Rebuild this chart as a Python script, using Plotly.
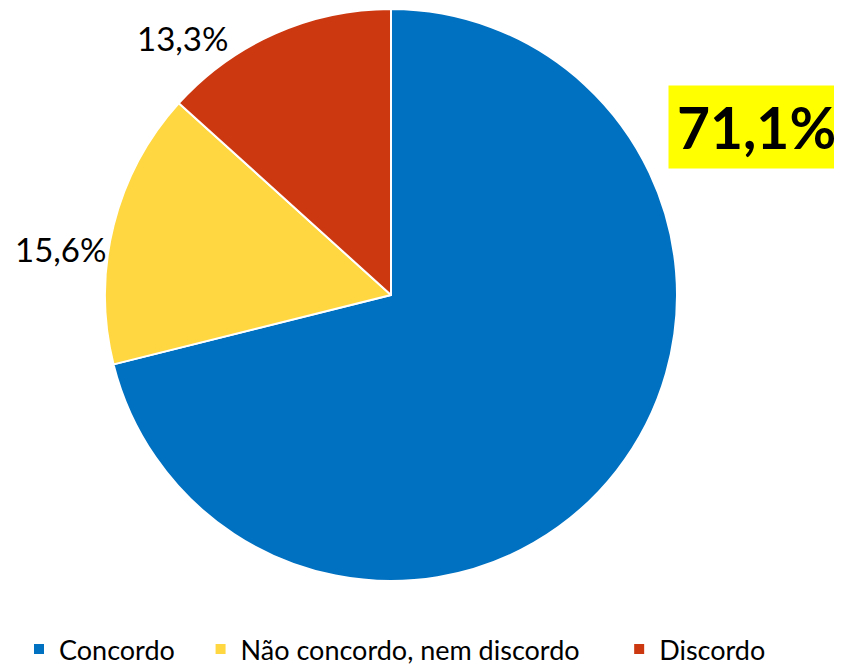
import plotly.graph_objects as go

categories = ["Concordo", "Não concordo, nem discordo", "Discordo"]
values = [71.1, 15.6, 13.3]
colors = ["#0070C0", "#FFD740", "#CC3911"]

# page has an 8px body margin, so the figure is drawn 8px smaller
W, H = 834, 657
FONT = "Lato"
OFF = 8

def fmt(v):
    return f"{v:.1f}".replace(".", ",") + "%"

pad = ["\u00a0" * 3, "\u00a0" * 5, ""]
legend_labels = [c + p for c, p in zip(categories, pad)]

fig = go.Figure(go.Pie(
    labels=legend_labels,
    values=values,
    sort=False,
    direction="clockwise",
    rotation=0,
    marker=dict(colors=colors, line=dict(color="white", width=2)),
    textinfo="none",
    hovertext=categories,
    hoverinfo="text+percent",
    domain=dict(x=[(105 - OFF) / W, (677 - OFF) / W],
                y=[(H - (581 - OFF)) / H, (H - (9 - OFF)) / H]),
))

# label centres in reference pixels
label_pos = [(756, 127), (60, 249), (182, 38)]
for i, (v, (px, py)) in enumerate(zip(values, label_pos)):
    x = (px - OFF) / W
    y = 1 - (py - OFF) / H
    if i == 0:
        fig.add_annotation(x=x, y=y, xref="paper", yref="paper",
                           text=f"<b>{fmt(v)}</b>", showarrow=False,
                           font=dict(family=FONT, size=57, color="black"),
                           bgcolor="#FFFF00", width=173, height=80,
                           xanchor="center", yanchor="middle")
    else:
        fig.add_annotation(x=x, y=y, xref="paper", yref="paper",
                           text=fmt(v), showarrow=False,
                           font=dict(family=FONT, size=33, color="black"),
                           xanchor="center", yanchor="middle")

fig.update_layout(
    width=W, height=H,
    margin=dict(l=0, r=0, t=0, b=0, autoexpand=False),
    paper_bgcolor="white", plot_bgcolor="white",
    showlegend=True,
    legend=dict(orientation="h", x=11 / W, y=-9 / H, xanchor="left", yanchor="bottom",
                font=dict(family=FONT, size=27, color="black"),
                itemwidth=30, tracegroupgap=0, traceorder="normal"),
    font=dict(family=FONT),
)

fig.write_html("out.html")
